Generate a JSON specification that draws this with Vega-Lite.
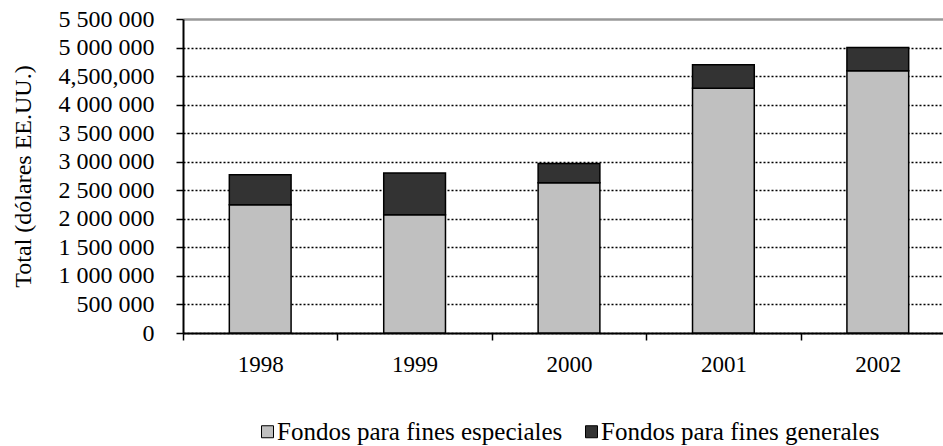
{
  "$schema": "https://vega.github.io/schema/vega-lite/v6.json",
  "autosize": {"type": "none"},
  "padding": {"left": 183, "top": 19, "right": 0, "bottom": 113},
  "width": 760,
  "height": 314,
  "background": "white",
  "config": {
    "font": "Liberation Serif, Times New Roman, DejaVu Serif, serif",
    "view": {"stroke": null},
    "axis": {"labelFont": "Liberation Serif, Times New Roman, DejaVu Serif, serif", "titleFont": "Liberation Serif, Times New Roman, DejaVu Serif, serif", "labelColor": "black", "titleColor": "black", "domainColor": "black", "tickColor": "black"}
  },
  "data": {
    "values": [
      {"year": "1998", "fondo": "Fondos para fines especiales", "monto": 2247000},
      {"year": "1998", "fondo": "Fondos para fines generales", "monto": 525000},
      {"year": "1999", "fondo": "Fondos para fines especiales", "monto": 2070000},
      {"year": "1999", "fondo": "Fondos para fines generales", "monto": 733000},
      {"year": "2000", "fondo": "Fondos para fines especiales", "monto": 2630000},
      {"year": "2000", "fondo": "Fondos para fines generales", "monto": 337000},
      {"year": "2001", "fondo": "Fondos para fines especiales", "monto": 4286000},
      {"year": "2001", "fondo": "Fondos para fines generales", "monto": 414000},
      {"year": "2002", "fondo": "Fondos para fines especiales", "monto": 4595000},
      {"year": "2002", "fondo": "Fondos para fines generales", "monto": 405000}
    ]
  },
  "mark": {"type": "bar", "width": {"band": 0.4}, "stroke": "black", "strokeWidth": 1.5},
  "encoding": {
    "x": {
      "field": "year", "type": "nominal", "title": null,
      "scale": {"paddingInner": 0, "paddingOuter": 0, "range": [0, 772]},
      "axis": {"labelAngle": 0, "labelFontSize": 23, "labelPadding": 13, "tickSize": 7, "tickWidth": 1.5, "tickBand": "extent", "domainWidth": 2, "grid": false}
    },
    "y": {
      "field": "monto", "type": "quantitative", "stack": "zero",
      "title": "Total (dólares EE.UU.)",
      "scale": {"domain": [0, 5500000], "nice": false},
      "axis": {
        "values": [0, 500000, 1000000, 1500000, 2000000, 2500000, 3000000, 3500000, 4000000, 4500000, 5000000, 5500000],
        "labelExpr": "datum.value == 4500000 ? '4,500,000' : replace(replace(format(datum.value, ','), ',', ' '), ',', ' ')",
        "labelFontSize": 24, "labelPadding": 22, "tickSize": 7, "tickWidth": 1.5, "domainWidth": 2,
        "titleFontSize": 24, "titleFontWeight": "normal", "titlePadding": 23,
        "grid": true,
        "gridColor": {"condition": {"test": "datum.value == 5500000", "value": "#999999"}, "value": "black"},
        "gridDash": {"condition": {"test": "datum.value == 5500000", "value": []}, "value": [2, 2]},
        "gridWidth": {"condition": {"test": "datum.value == 5500000", "value": 2.5}, "value": 1.5}
      }
    },
    "order": {"field": "fondo", "sort": "ascending"},
    "color": {
      "field": "fondo", "type": "nominal",
      "scale": {"domain": ["Fondos para fines especiales", "Fondos para fines generales"], "range": ["#c0c0c0", "#333333"]},
      "legend": {
        "title": null, "orient": "none", "legendX": 72, "legendY": 400, "direction": "horizontal",
        "symbolType": "square", "symbolSize": 144, "symbolStrokeColor": "black", "symbolStrokeWidth": 1, "symbolOpacity": 1,
        "labelFont": "Liberation Serif, Times New Roman, DejaVu Serif, serif", "labelFontSize": 25, "labelColor": "black", "labelOffset": -3, "columnPadding": 16, "labelLimit": 400, "padding": 0
      }
    }
  }
}
